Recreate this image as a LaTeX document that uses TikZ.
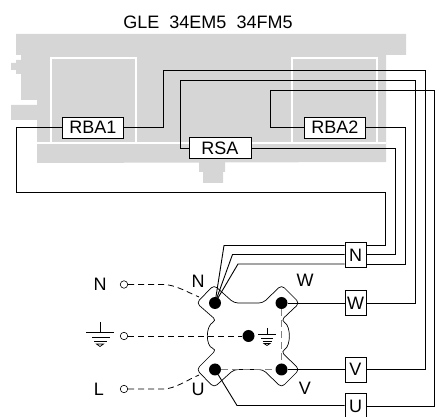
\documentclass[tikz,border=0pt]{standalone}
\usepackage{fontspec}
\setmainfont{Liberation Sans}
\usepackage{tikz}
\definecolor{chassis}{gray}{0.84}
\tikzstyle{relay}=[rectangle,draw=black,fill=white,line width=0.9pt,inner sep=0pt,minimum height=21pt,font=\fontsize{18}{18}\selectfont]
\tikzstyle{terminal}=[rectangle,draw=black,fill=white,line width=0.9pt,inner sep=0pt,minimum width=21pt,minimum height=25pt,font=\fontsize{18}{18}\selectfont]
\tikzstyle{stud}=[circle,fill=black,inner sep=0pt,minimum size=12pt]
\tikzstyle{inlet}=[circle,draw=black,fill=white,inner sep=0pt,minimum size=7.5pt,line width=0.6pt]
\tikzstyle{wire}=[line width=0.9pt]
\tikzstyle{feed}=[line width=0.8pt,dash pattern=on 6pt off 4pt]
\tikzstyle{bridge}=[line width=0.8pt,gray,dash pattern=on 7pt off 4pt]
\tikzstyle{label}=[inner sep=0pt,font=\fontsize{18}{18}\selectfont]
\begin{document}
\begin{tikzpicture}[x=1pt,y=-1pt]
    \useasboundingbox (0,0) rectangle (448,417);
    % chassis
    \fill[chassis] (16,34) -- (406,34) -- (406,55) -- (386,55) -- (386,162) -- (37,163)
    -- (37,120) -- (11,120) -- (11,105) -- (37,105) -- (37,100) -- (21,100) -- (21,74)
    -- (16,74) -- (16,70) -- (11,70) -- (11,63) -- (16,63) -- (16,60) -- (21,60) -- (21,55)
    -- (16,55) -- cycle;
    \fill[chassis] (199,160) -- (225,160) -- (225,172) -- (223,172) -- (223,183) -- (203,183)
    -- (203,172) -- (199,172) -- cycle;
    \draw[white,line width=2pt] (50.5,143.5) rectangle (136,58.5);
    \draw[white,line width=2pt] (292,143.5) rectangle (377,58.5);
    \draw[white,line width=2pt] (37,143.5) -- (386,143.5);

    % terminals and relays
    \node (RBA1) at (93,127.5) [relay,minimum width=61pt] {RBA1};
    \node (RSA) at (220,148) [relay,minimum width=62pt] {RSA};
    \node (RBA2) at (335,127.5) [relay,minimum width=61pt] {RBA2};
    \node (TN) at (355.5,255) [terminal] {N};
    \node (TW) at (355.5,303) [terminal] {W};
    \node (TV) at (355.5,369.5) [terminal] {V};
    \node (TU) at (355.5,406) [terminal] {U};

    % studs
    \node (SN) at (215,303) [stud] {};
    \node (SW) at (281.5,303) [stud] {};
    \node (SU) at (215,369.5) [stud] {};
    \node (SV) at (281.5,369.5) [stud] {};
    \node (SE) at (248.5,336) [stud] {};

    % wiring
    \draw[wire] (RBA1.west) -| (16.5,192.5) -| (385,245.5) -- (TN.east |- 0,245.5);
    \draw[wire] (RBA1.east) -| (163,70) -| (425,369.5) -- (TV.east);
    \draw[wire] (RSA.west) -| (180,80) -| (415,303) -- (TW.east);
    \draw[wire] (RSA.east) -| (395,254.5) -- (TN.east |- 0,254.5);
    \draw[wire] (RBA2.west) -| (270,90.5) -| (434.5,406) -- (TU.east);
    \draw[wire] (RBA2.east) -| (405,264) -- (TN.east |- 0,264);
    \draw[wire] (SN.center) -- (224,245.5) -- (TN.west |- 0,245.5);
    \draw[wire] (SN.center) -- (232.5,254.5) -- (TN.west |- 0,254.5);
    \draw[wire] (SN.center) -- (238,264) -- (TN.west |- 0,264);
    \draw[wire] (SW) -- (TW);
    \draw[wire] (SV) -- (TV);
    \draw[wire] (SU.center) -- (237,405.5) -- (TU.west |- 0,405.5);

    % plate
    \draw[line width=0.7pt,rounded corners=4pt] (214,285) -- (234,303) -- (263,303) -- (281.5,285)
    -- (299.5,303) -- (281,320.5) .. controls (291,326) and (291,346) .. (281,351.5) -- (299.5,369.5)
    -- (281.5,387.5) -- (263,369.5) -- (234,369.5) -- (214,387.5) -- (196.5,369.5) -- (216.5,349.5)
    .. controls (205.5,346) and (205.5,326) .. (216.5,320.5) -- (196.5,303) -- cycle;
    \draw[bridge] (SW) -- (SV);
    \draw[bridge] (SU) -- (SV);

    % inlets
    \node (IN) at (124,284.5) [inlet] {};
    \node (IE) at (124,336) [inlet] {};
    \node (IL) at (124,389) [inlet] {};
    \coordinate (FN) at (199,297);
    \coordinate (FL) at (199,375);
    \draw[feed] (IN) -- (163,284.5) .. controls (175,284.5) and (187,292) .. (FN);
    \draw[feed] (IE) -- (SE);
    \draw[feed] (IL) -- (163,389) .. controls (175,389) and (187,380) .. (FL);
    \node (LN) at (100,284.5) [label] {N};
    \node (LL) at (99,389) [label] {L};
    \node (LN2) at (198,281) [label] {N};
    \node (LU) at (198,389) [label] {U};
    \node (LW) at (305,280) [label] {W};
    \node (LV) at (305,388) [label] {V};
    \node (title) at (208,22) [label] {GLE\ \ 34EM5\ \ 34FM5};

    % ground marks
    \draw[line width=0.8pt] (100,322) -- (100,332);
    \draw[line width=0.9pt] (86,332.5) -- (114,332.5) (92,337) -- (110,337) (94,341) -- (107,341);
    \draw[line width=0.7pt] (96.5,344) -- (103.5,344) -- (100,346.5) -- cycle;
    \draw[line width=0.8pt] (267,328) -- (267,334);
    \draw[line width=0.9pt] (258,334.5) -- (276,334.5) (261,338) -- (273,338) (262.5,341) -- (271.5,341);
    \draw[line width=0.7pt] (264,343.5) -- (270,343.5) -- (267,345.5) -- cycle;
\end{tikzpicture}
\end{document}
